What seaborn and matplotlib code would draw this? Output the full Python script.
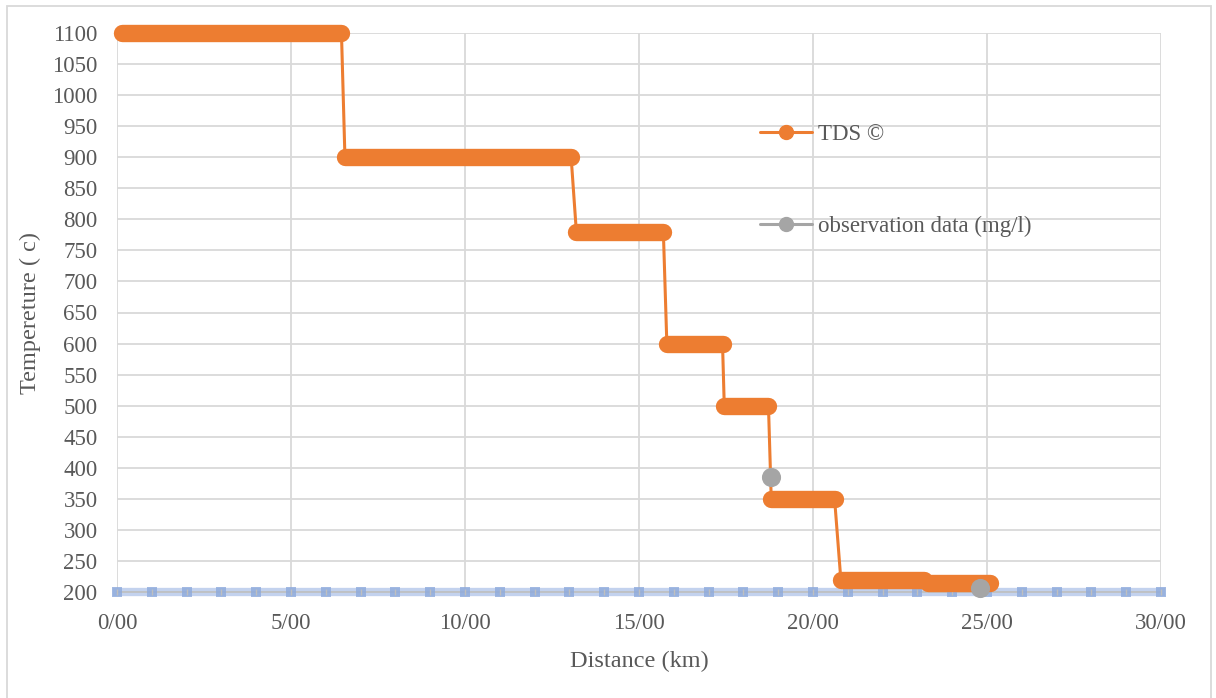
import numpy as np
import pandas as pd
import matplotlib
matplotlib.use("Agg")
import matplotlib.pyplot as plt
import matplotlib.patheffects as pe
from matplotlib.lines import Line2D
from matplotlib.patches import Rectangle
from matplotlib.ticker import MultipleLocator, FuncFormatter
import seaborn as sns

# TDS step profile: level value with the distance where each plateau starts and ends
tds_levels = [1100, 900, 780, 600, 500, 350, 220, 215]
tds_start_km = [0.15, 6.55, 13.20, 15.80, 17.45, 18.80, 20.80, 23.30]
tds_end_km = [6.45, 13.05, 15.70, 17.40, 18.72, 20.62, 23.20, 25.10]

# field observations
obs_km = [18.8, 24.8]
obs_mgl = [385, 207]

x_ticks = [0, 5, 10, 15, 20, 25, 30]
y_ticks = list(range(200, 1101, 50))

ORANGE = "#ED7D31"
GRAY = "#A5A5A5"
TEXT = "#595959"
GRID = "#D9D9D9"

sns.set_theme(style="white")
plt.rcParams["font.family"] = ["Liberation Serif", "DejaVu Serif"]

fig = plt.figure(figsize=(12.16, 6.98), dpi=100)
ax = fig.add_axes([117 / 1216, 1 - 592 / 698, (1161 - 117) / 1216, (592 - 33) / 698])

# polyline through plateau ends
dist, val = [], []
for s, e, v in zip(tds_start_km, tds_end_km, tds_levels):
    dist += [s, e]
    val += [v, v]
profile = pd.DataFrame({"Distance (km)": dist, "TDS": val})
sns.lineplot(data=profile, x="Distance (km)", y="TDS", sort=False, ax=ax,
             color=ORANGE, linewidth=2.2, zorder=4, clip_on=False)

# densely packed markers along each plateau form a solid rounded band
for s, e, v in zip(tds_start_km, tds_end_km, tds_levels):
    ax.plot([s, e], [v, v], color=ORANGE, linewidth=12.5,
            solid_capstyle="round", zorder=4, clip_on=False)

obs = pd.DataFrame({"km": obs_km, "mgl": obs_mgl})
sns.scatterplot(data=obs, x="km", y="mgl", ax=ax, color=GRAY, s=190,
                edgecolor=GRAY, linewidth=0, zorder=6, clip_on=False)

ax.set_xlim(0, 30)
ax.set_ylim(200, 1100)
ax.set_xticks(x_ticks)
ax.set_yticks(y_ticks)
ax.xaxis.set_major_formatter(FuncFormatter(lambda v, p: f"{int(v)}/00"))

ax.grid(True, which="major", color=GRID, linewidth=1.3)
ax.set_axisbelow(True)
for side in ["top", "right", "left"]:
    ax.spines[side].set_visible(False)

# horizontal axis line with a soft blue glow
ax.spines["bottom"].set_color("#BFBFBF")
ax.spines["bottom"].set_linewidth(1.2)
ax.spines["bottom"].set_path_effects(
    [pe.Stroke(linewidth=6, foreground="#B4C7EA", alpha=0.8), pe.Normal()])
ax.spines["bottom"].set_zorder(2.5)

# glowing tick marks at every kilometre along the axis
x0, x1 = ax.get_xlim()
y0 = ax.get_ylim()[0]
tick_pos = np.arange(x0, x1 + 0.5, 1.0)
ax.plot(tick_pos, np.full(len(tick_pos), y0), linestyle="none",
        marker="s", markersize=6.5, color="#8EAADC", alpha=0.8,
        markeredgewidth=0, zorder=2.6, clip_on=False)
ax.plot(tick_pos, np.full(len(tick_pos), y0), linestyle="none",
        marker="|", markersize=4, color="#BFBFBF", markeredgewidth=1,
        zorder=2.7, clip_on=False)

ax.tick_params(axis="x", which="both", length=0, labelsize=16.5,
               labelcolor=TEXT, pad=15)
ax.tick_params(axis="y", which="both", length=0, labelsize=16.5,
               labelcolor=TEXT, pad=14)

ax.set_xlabel("Distance (km)", fontsize=17.5, color=TEXT, labelpad=12)
ax.set_ylabel("Tempereture ( c)", fontsize=17.5, color=TEXT, labelpad=8)

handles = [
    Line2D([], [], color=ORANGE, linewidth=2.2, marker="o", markersize=10),
    Line2D([], [], color=GRAY, linewidth=2.2, marker="o", markersize=10),
]
ax.legend(handles, ["TDS \u00a9", "observation data (mg/l)"], loc="center left",
          bbox_to_anchor=((760 - 117) / 1044, (592 - 180.5) / 559),
          frameon=False, fontsize=16.5, labelcolor=TEXT, handlelength=2.25,
          handletextpad=0.3, labelspacing=3.05, borderpad=0, borderaxespad=0)

fig.patches.append(Rectangle((7 / 1216, -0.01), (1211 - 7) / 1216, 1 - 6 / 698 + 0.01,
                             transform=fig.transFigure, fill=False,
                             edgecolor=GRID, linewidth=1.3))

fig.savefig("out.png", dpi=100, facecolor="white")
